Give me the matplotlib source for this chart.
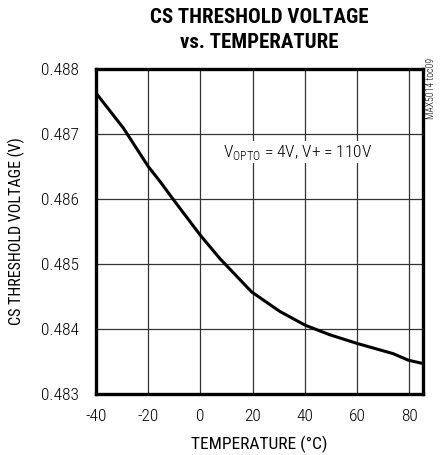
import matplotlib
matplotlib.use("Agg")
import matplotlib.pyplot as plt

plt.rcParams['font.family'] = ['Roboto Condensed', 'DejaVu Sans']
plt.rcParams['font.weight'] = 'light'

temp = [-40, -29.5, -20, -15.5, -9.8, -0.2, 7.5, 19.6, 30.4, 40, 49.6, 59.8, 73.8, 79.6, 85]
volt = [0.48763, 0.48709, 0.48650, 0.48627, 0.48596, 0.48545, 0.48508, 0.48457, 0.48427,
        0.48406, 0.48391, 0.48378, 0.48362, 0.48352, 0.48347]
xticks = [-40, -20, 0, 20, 40, 60, 80]
yticks = [0.483, 0.484, 0.485, 0.486, 0.487, 0.488]

fig = plt.figure(figsize=(4.41, 4.55), dpi=100)
ax = fig.add_axes([96/441, 1-394/455, (422.5-96)/441, (394-69)/455])
ax.plot(temp, volt, color='black', lw=2.2, zorder=3)
ax.set_xlim(-40, 85)
ax.set_ylim(0.483, 0.488)
ax.set_xticks(xticks)
ax.set_xticklabels([str(t) for t in xticks])
ax.set_yticks(yticks)
ax.set_yticklabels([f"{v:.3f}" for v in yticks])
ax.grid(True, color='#333333', lw=0.9, zorder=1)
ax.tick_params(axis='x', length=0, labelsize=12.5, pad=11)
ax.tick_params(axis='y', length=0, labelsize=12.5, pad=12)
for s in ax.spines.values():
    s.set_linewidth(2.4)
    s.set_zorder(4)
ax.set_xlabel('TEMPERATURE (°C)', fontsize=12.5, labelpad=8)
ax.set_ylabel('CS THRESHOLD VOLTAGE (V)', fontsize=11.5, labelpad=12)
fig.text(259/441, 1-30/455, 'CS THRESHOLD VOLTAGE\nvs. TEMPERATURE', ha='center', va='center',
         fontsize=15, fontweight='black', linespacing=1.4)
ax.text(8.5, 0.48672, r'V$_{\mathregular{OPTO}}$ = 4V, V+ = 110V', fontsize=12.5, va='center', ha='left',
        zorder=2, bbox=dict(facecolor='white', edgecolor='none', pad=1))
fig.text(431/441, 1-88/455, 'MAX5014 toc09', rotation=90, fontsize=7, ha='center', va='center')
fig.savefig('out.png', dpi=100)
